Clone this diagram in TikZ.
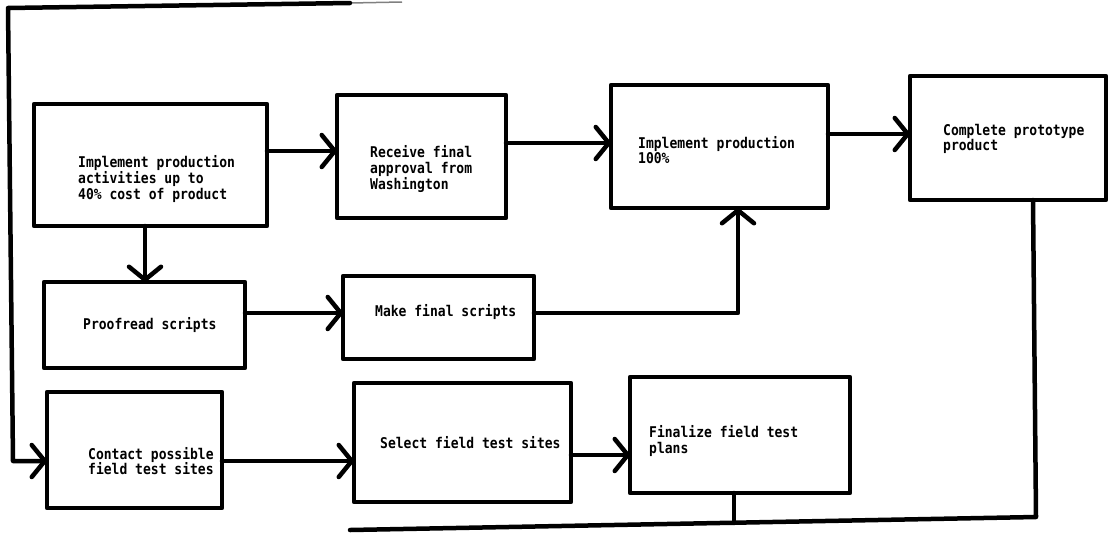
\documentclass[tikz,border=0pt]{standalone}
\usepackage{fontspec}
\newfontfamily\typew[FakeStretch=0.88]{DejaVu Sans Mono}
\usetikzlibrary{arrows.meta}
\tikzset{
  box/.style={draw, line width=4.5pt, inner sep=0pt, outer sep=0pt, line join=round},
  conn/.style={line width=4.5pt, line cap=round, line join=round},
  arr/.style={conn, -{Straight Barb[length=13pt,width=32pt,round]}},
  lbl/.style={anchor=west, align=left, inner sep=0pt, font=\typew\bfseries\fontsize{14.8}{15.8}\selectfont},
}
\begin{document}
\begin{tikzpicture}[x=1pt,y=-1pt]
\useasboundingbox (0,0) rectangle (1115,533);
% boxes
\node[box, minimum width=233pt, minimum height=122pt] (A) at (150.5,165) {};
\node[box, minimum width=169pt, minimum height=123pt] (B) at (421.5,156.5) {};
\node[box, minimum width=217pt, minimum height=123pt] (C) at (719.5,146.5) {};
\node[box, minimum width=196pt, minimum height=124pt] (D) at (1008,138) {};
\node[box, minimum width=201pt, minimum height=86pt] (E) at (144.5,325) {};
\node[box, minimum width=191pt, minimum height=83pt] (F) at (438.5,317.5) {};
\node[box, minimum width=175pt, minimum height=116pt] (G) at (134.5,450) {};
\node[box, minimum width=217pt, minimum height=119pt] (H) at (462.5,442.5) {};
\node[box, minimum width=220pt, minimum height=116pt] (I) at (740,435) {};
% texts
\node[lbl] (tA) at (78,179) {Implement production\\activities up to\\40\% cost of product};
\node[lbl] (tB) at (370,169) {Receive final\\approval from\\Washington};
\node[lbl] (tC) at (638,150) {Implement production\\100\%};
\node[lbl] (tD) at (943,139) {Complete prototype\\product};
\node[lbl] (tE) at (83,325) {Proofread scripts};
\node[lbl] (tF) at (375,312) {Make final scripts};
\node[lbl] (tG) at (88,461) {Contact possible\\field test sites};
\node[lbl] (tH) at (380,443) {Select field test sites};
\node[lbl] (tI) at (649,441) {Finalize field test\\plans};
% connectors
\draw[arr] (A.east |- 0,151) -- (B.west |- 0,151);
\draw[arr] (B.east |- 0,143) -- (C.west |- 0,143);
\draw[arr] (C.east |- 0,134) -- (D.west |- 0,134);
\draw[arr] (A.south -| 145,0) -- (E.north -| 145,0);
\draw[arr] (E.east |- 0,313) -- (F.west |- 0,313);
\draw[arr] (F.east |- 0,313) -| (C.south -| 738,0);
\draw[arr] (G.east |- 0,461) -- (H.west |- 0,461);
\draw[arr] (H.east |- 0,455) -- (I.west |- 0,455);
% feedback loop at the bottom
\coordinate (br) at (1036,517);
\coordinate (bl) at (350,530);
\coordinate (ij) at (734,523);
\draw[conn] (D.south -| 1033,0) -- (br) -- (bl);
\draw[conn] (I.south -| 734,0) -- (ij);
% loop at the top and left
\coordinate (tr) at (350,3);
\coordinate (tg) at (402,2);
\coordinate (tl) at (8,8);
\coordinate (lb) at (13,461);
\draw[gray, line width=1.5pt] (tr) -- (tg);
\draw[arr] (tr) -- (tl) -- (lb) -- (G.west |- 0,461);
\end{tikzpicture}
\end{document}
